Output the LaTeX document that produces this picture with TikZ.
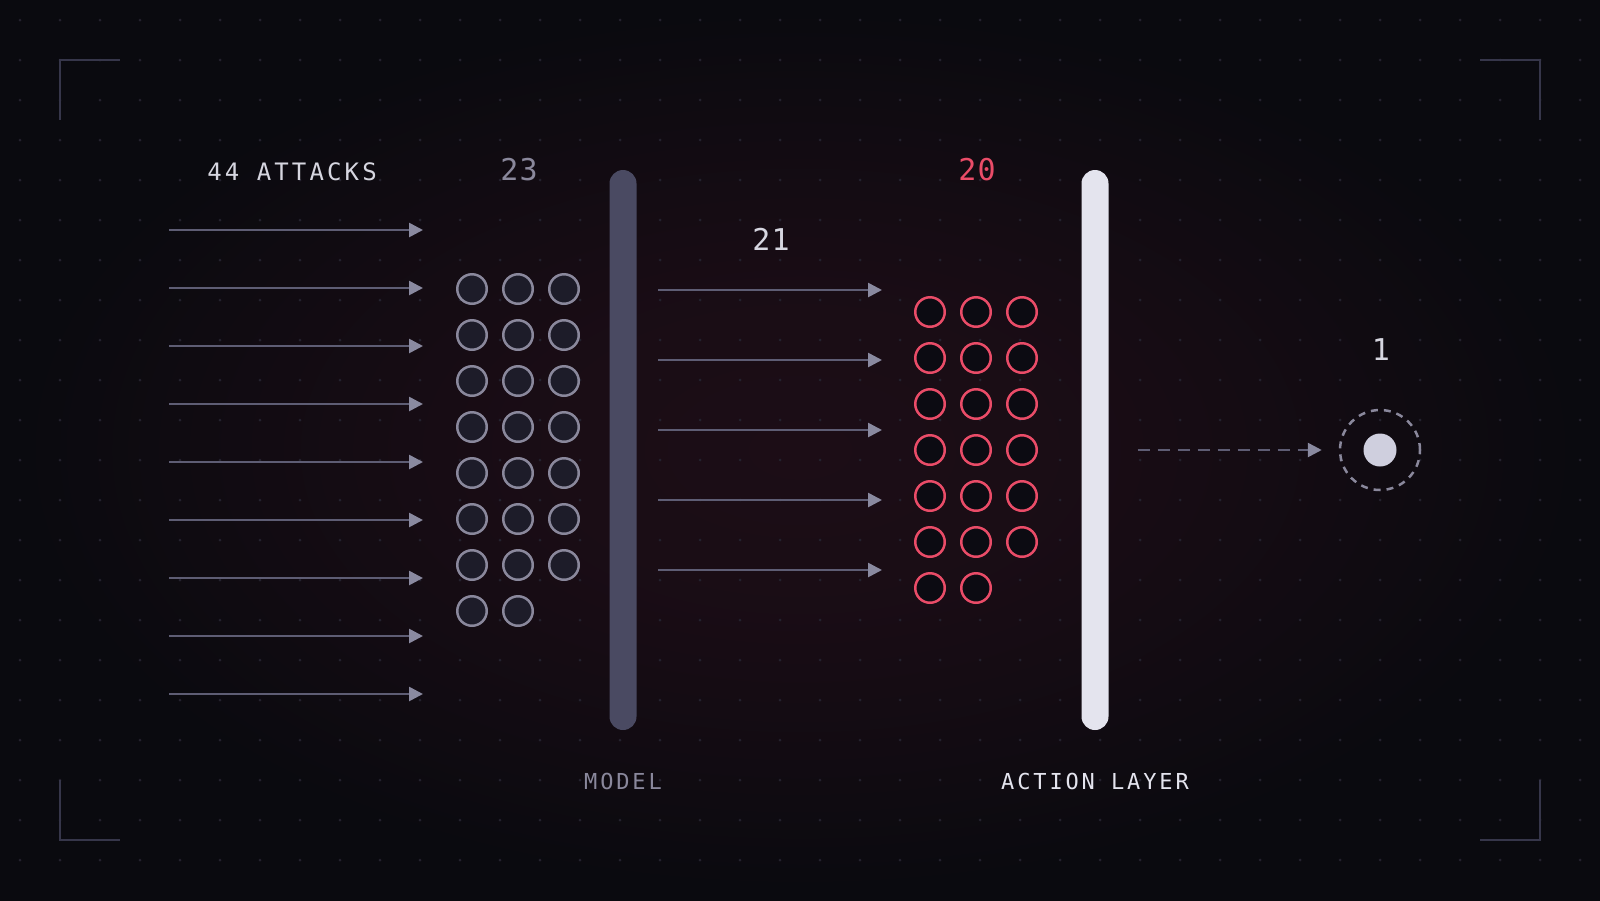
\documentclass[tikz,border=0pt]{standalone}
\usepackage{fontspec}
\usetikzlibrary{arrows.meta}
\usetikzlibrary{positioning}

\newfontfamily\capsfont[LetterSpace=13]{DejaVu Sans Mono}
\newfontfamily\digitfont[LetterSpace=4]{DejaVu Sans Mono}

\definecolor{bgc}{HTML}{0A0A0F}
\definecolor{glowc}{HTML}{1C0D16}
\definecolor{gridc}{HTML}{24222E}
\definecolor{framec}{HTML}{36364A}
\definecolor{wirec}{HTML}{5E5D74}
\definecolor{tipc}{HTML}{8A8AA0}
\definecolor{mutedc}{HTML}{8A889C}
\definecolor{cellc}{HTML}{1D1C29}
\definecolor{hotc}{HTML}{EA4C68}
\definecolor{voidc}{HTML}{0C0B12}
\definecolor{modelc}{HTML}{4A4A62}
\definecolor{paperc}{HTML}{E4E4EE}
\definecolor{inkc}{HTML}{D6D6E0}
\definecolor{dotc}{HTML}{CFCFDE}

\pgfdeclareradialshading{glow}{\pgfpoint{0bp}{0bp}}{color(0bp)=(glowc); color(9bp)=(glowc!85!bgc); color(17bp)=(glowc!45!bgc); color(25bp)=(bgc); color(50bp)=(bgc)}

\tikzset{
  frame/.style={draw=framec,line width=2pt},
  wire/.style={draw=wirec,line width=2.6pt,-{Triangle[length=14pt,width=14pt,color=tipc]}},
  cell/.style={circle,draw=mutedc,fill=cellc,line width=2.5pt,minimum size=29.5pt,inner sep=0pt},
  hotcell/.style={cell,draw=hotc,fill=voidc},
  bar/.style={rectangle,rounded corners=13.5pt,minimum width=27pt,minimum height=560pt,inner sep=0pt},
  caps/.style={font=\capsfont\fontsize{22}{24}\selectfont,inner sep=0pt},
  digits/.style={font=\digitfont\fontsize{30}{32}\selectfont,inner sep=0pt}
}

\begin{document}
\begin{tikzpicture}[x=1pt,y=-1pt]
    \useasboundingbox (0,0) rectangle (1600,900);
    \fill[bgc] (-10,-10) rectangle (1610,910);
    \shade[shading=glow] (800,450) ellipse [x radius=780pt, y radius=440pt];
    \foreach \i in {0,...,39}
        \foreach \j in {0,...,21}
            \fill[gridc] (20+40*\i,20+40*\j) circle (1.5pt);

    \draw[frame] (60,120) -- (60,60) -- (120,60);
    \draw[frame] (1480,60) -- (1540,60) -- (1540,120);
    \draw[frame] (60,780) -- (60,840) -- (120,840);
    \draw[frame] (1480,840) -- (1540,840) -- (1540,780);

    \node[caps,text=inkc,font=\capsfont\fontsize{24}{26}\selectfont] (attacks) at (292,172) {44 ATTACKS};
    \node[digits,text=mutedc] (n23) at (519,170) {23};
    \node[digits,text=inkc] (n21) at (771,239) {21};
    \node[digits,text=hotc] (n20) at (977,170) {20};
    \node[digits,text=inkc] (n1) at (1381,350) {1};

    \node[bar,fill=modelc] (model) at (623,450) {};
    \node[bar,fill=paperc] (action) at (1095,450) {};
    \node[caps,text=mutedc,below=43pt of model] (lblmodel) {MODEL};
    \node[caps,text=paperc,below=43pt of action] (lblaction) {ACTION LAYER};

    \foreach \k in {0,...,8} {
        \coordinate (src\k) at (169,230+58*\k);
        \coordinate (dst\k) at (423,230+58*\k);
        \draw[wire] (src\k) -- (dst\k);
    }
    \foreach \k in {0,...,4} {
        \coordinate (pass\k) at (658,290+70*\k);
        \coordinate (land\k) at (882,290+70*\k);
        \draw[wire] (pass\k) -- (land\k);
    }

    \foreach \n in {0,...,22} {
        \pgfmathtruncatemacro\col{mod(\n,3)}
        \pgfmathtruncatemacro\row{div(\n,3)}
        \node[cell] (g\n) at (472+46*\col,289+46*\row) {};
    }
    \foreach \n in {0,...,19} {
        \pgfmathtruncatemacro\col{mod(\n,3)}
        \pgfmathtruncatemacro\row{div(\n,3)}
        \node[hotcell] (r\n) at (930+46*\col,312+46*\row) {};
    }

    \node[circle,draw=mutedc,line width=2.5pt,dash pattern=on 7pt off 6pt,minimum size=80pt,inner sep=0pt] (ring) at (1380,450) {};
    \node[circle,fill=dotc,minimum size=33pt,inner sep=0pt] (out) at (ring.center) {};
    \draw[wire,dash pattern=on 12pt off 8pt,shorten <=29pt,shorten >=17pt] (action.east) -- (ring.west);
\end{tikzpicture}
\end{document}
